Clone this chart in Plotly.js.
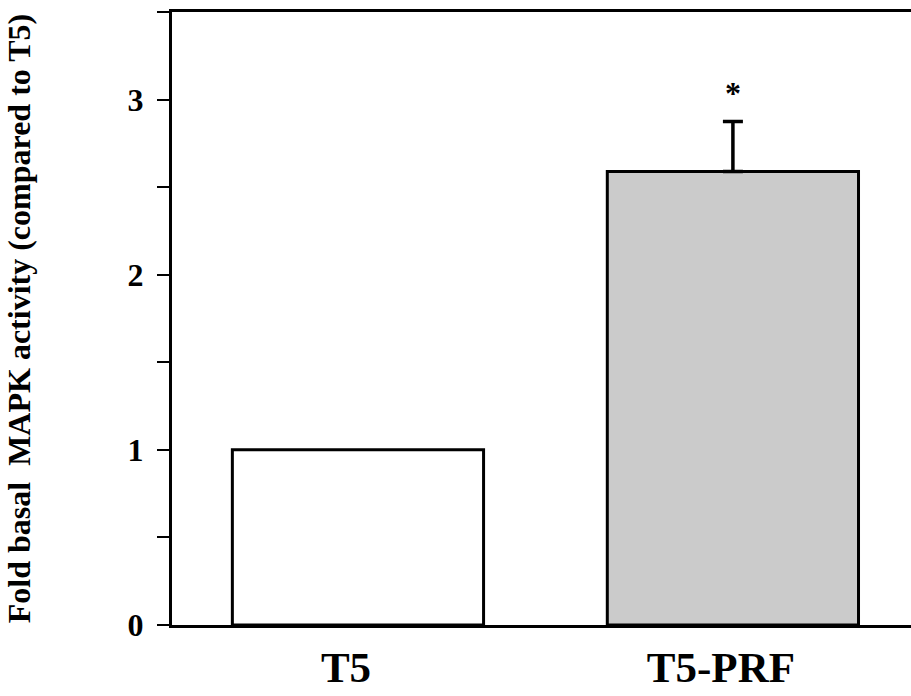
<!DOCTYPE html>
<html>
<head>
<meta charset="utf-8">
<script src="https://cdn.plot.ly/plotly-3.0.1.min.js"></script>
<style>html,body{margin:0;padding:0;background:#fff;}#chart{width:911px;height:696px;}</style>
</head>
<body>
<div id="chart"></div>
<script>
const categories = ["T5", "T5-PRF"];
const foldValues = [1.0, 2.59];
const errorValues = [null, 0.285];
const significance = ["", "*"];
const barColors = ["#ffffff", "#cbcbcb"];
const yTickVals = [0, 1, 2, 3];
const yTickText = ["0", "1", "2", "3"];

const serif = "Liberation Serif, Times New Roman, serif";

const traces = categories.map((c, i) => {
  const t = {
    type: "bar",
    x: [c],
    y: [foldValues[i]],
    width: 0.67,
    marker: {color: barColors[i], line: {color: "#000", width: 3}},
    hoverinfo: "skip"
  };
  if (errorValues[i] != null) {
    t.error_y = {type: "data", symmetric: false, array: [errorValues[i]], arrayminus: [0],
                 visible: true, color: "#000", thickness: 3.5, width: 10};
  }
  return t;
});

const annotations = categories.map((c, i) => ({
  x: c, y: foldValues[i] + (errorValues[i] || 0), xref: "x", yref: "y",
  text: "<b>" + significance[i] + "</b>", showarrow: false,
  yanchor: "bottom", yshift: 8,
  font: {family: serif, size: 32, color: "#000"}
})).filter(a => a.text !== "<b></b>");

const layout = {
  width: 911, height: 696,
  margin: {l: 172, r: 0, t: 12, b: 71},
  paper_bgcolor: "#fff", plot_bgcolor: "#fff",
  showlegend: false,
  barmode: "overlay",
  font: {family: serif, color: "#000"},
  xaxis: {
    type: "category",
    categoryorder: "array", categoryarray: categories,
    range: [-0.496, 1.475],
    showline: true, linecolor: "#000", linewidth: 3, mirror: true,
    ticks: "", showgrid: false, zeroline: false,
    tickfont: {family: serif, size: 43, color: "#000"},
    ticklabelshift: -12,
    ticklabelstandoff: 2,
    ticktext: categories.map(c => "<b>" + c + "</b>"),
    tickvals: categories
  },
  yaxis: {
    range: [0, 3.5],
    showline: true, linecolor: "#000", linewidth: 3,
    ticks: "outside", ticklen: 12, tickwidth: 2, tickcolor: "#000",
    tickvals: yTickVals,
    ticktext: yTickText.map(t => "<b>" + t + "</b>"),
    tickfont: {family: serif, size: 32, color: "#000"},
    ticklabelstandoff: 7,
    minor: {dtick: 0.5, ticks: "outside", ticklen: 12, tickwidth: 2, tickcolor: "#000", showgrid: false},
    showgrid: false, zeroline: false,
    title: {text: "<b>Fold basal  MAPK activity (compared to T5)</b>", font: {family: serif, size: 32, color: "#000"}, standoff: 88}
  },
  annotations: annotations
};

Plotly.newPlot("chart", traces, layout, {staticPlot: true, displayModeBar: false});
</script>
</body>
</html>
